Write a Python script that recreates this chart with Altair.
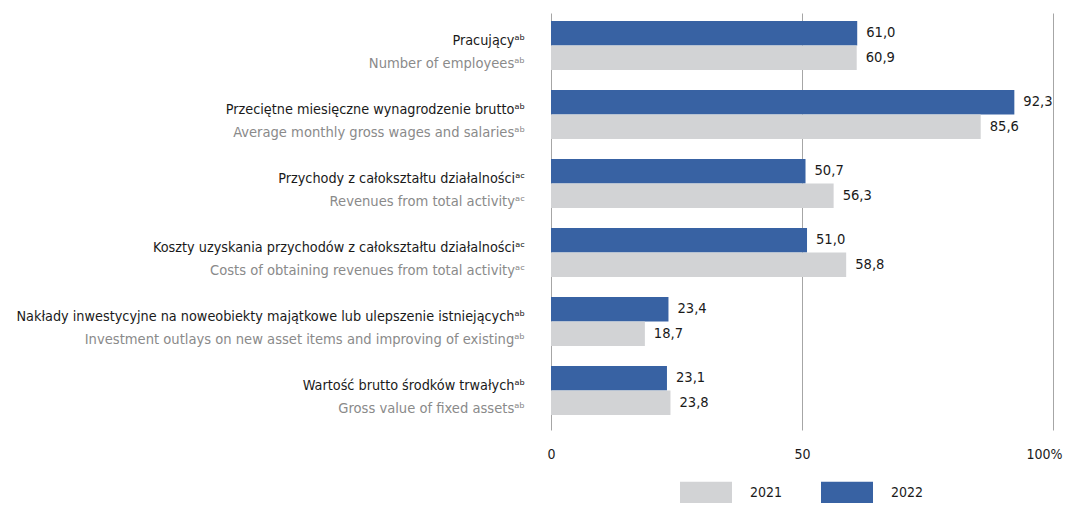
import altair as alt
import pandas as pd

polish = [
    "Pracujący",
    "Przeciętne miesięczne wynagrodzenie brutto",
    "Przychody z całokształtu działalności",
    "Koszty uzyskania przychodów z całokształtu działalności",
    "Nakłady inwestycyjne na noweobiekty majątkowe lub ulepszenie istniejących",
    "Wartość brutto środków trwałych",
]
english = [
    "Number of employees",
    "Average monthly gross wages and salaries",
    "Revenues from total activity",
    "Costs of obtaining revenues from total activity",
    "Investment outlays on new asset items and improving of existing",
    "Gross value of fixed assets",
]
notes = ["ᵃᵇ", "ᵃᵇ", "ᵃᶜ", "ᵃᶜ", "ᵃᵇ", "ᵃᵇ"]
values_2022 = [61.0, 92.3, 50.7, 51.0, 23.4, 23.1]
values_2021 = [60.9, 85.6, 56.3, 58.8, 18.7, 23.8]
years = ["2021", "2022"]
tick_values = [0, 50, 100]

rows = []
for i, cat in enumerate(polish):
    rows.append({"cat": cat, "year": "2022", "value": values_2022[i]})
    rows.append({"cat": cat, "year": "2021", "value": values_2021[i]})
bars_df = pd.DataFrame(rows)
labels_df = pd.DataFrame({
    "cat": polish,
    "pl": [p + n for p, n in zip(polish, notes)],
    "en": [e + n for e, n in zip(english, notes)],
})

FONT = "DejaVu Sans Condensed, Liberation Sans Narrow, sans-serif"
BLUE = "#3862a3"
GRAY = "#d2d3d5"
FS = 14
FSL = 14.6
FSP = 14.3

yenc = alt.Y("cat:N", sort=polish, axis=None,
             scale=alt.Scale(paddingInner=0.29, paddingOuter=0.167, align=0.35))
xscale = alt.Scale(domain=[0, 100], nice=False)
yoff = alt.YOffset("year:N", sort=["2022", "2021"], scale=alt.Scale(paddingInner=0, paddingOuter=0))

base = alt.Chart(bars_df)

bars = base.mark_bar(cornerRadius=0).encode(
    y=yenc,
    yOffset=yoff,
    x=alt.X("value:Q", scale=xscale,
            axis=alt.Axis(values=tick_values, title=None, grid=True, domain=False, ticks=False,
                          gridColor="#a6a6a6", gridWidth=1, labelFontSize=FS, labelFont=FONT,
                          labelColor="#1a1a1a", labelPadding=17, labelFlush=False,
                          labelOffset={"condition": {"test": "datum.value == 100", "value": -9},
                                       "value": 0},
                          labelExpr="datum.value == 100 ? '100%' : datum.label")),
    color=alt.Color("year:N", scale=alt.Scale(domain=years, range=[GRAY, BLUE]),
                    legend=alt.Legend(title=None, orient="none", direction="horizontal",
                                      legendX=129, legendY=454,
                                      symbolType="M-1,-0.44H1V0.44H-1Z", symbolSize=2704,
                                      symbolStrokeWidth=0, symbolOpacity=1,
                                      labelFontSize=FS, labelFont=FONT, labelColor="#1a1a1a",
                                      labelOffset=18, columnPadding=38, padding=0)),
)

vals = base.mark_text(align="left", baseline="middle", dx=9, fontSize=FSL, font=FONT,
                      color="#1a1a1a").encode(
    y=yenc,
    yOffset=yoff,
    x=alt.X("value:Q", scale=xscale),
    text=alt.Text("lbl:N"),
).transform_calculate(lbl="replace(format(datum.value, '.1f'), '.', ',')")

pl = alt.Chart(labels_df).mark_text(align="right", baseline="middle", dy=-5, fontSize=FSP,
                                    font=FONT, color="#1a1a1a").encode(
    y=yenc, x=alt.value(-26), text="pl:N")
en = alt.Chart(labels_df).mark_text(align="right", baseline="middle", dy=18, fontSize=FSL,
                                    font=FONT, color="#8a8a8a").encode(
    y=yenc, x=alt.value(-26), text="en:N")

chart = alt.layer(bars, vals, pl, en).properties(
    width=502, height=417,
    autosize=alt.AutoSizeParams(type="none"),
    padding={"left": 543, "top": 5, "right": 13, "bottom": 73},
).configure(font=FONT).configure_view(stroke=None)

chart.save("out.html", embed_options={"renderer": "svg", "actions": False})
